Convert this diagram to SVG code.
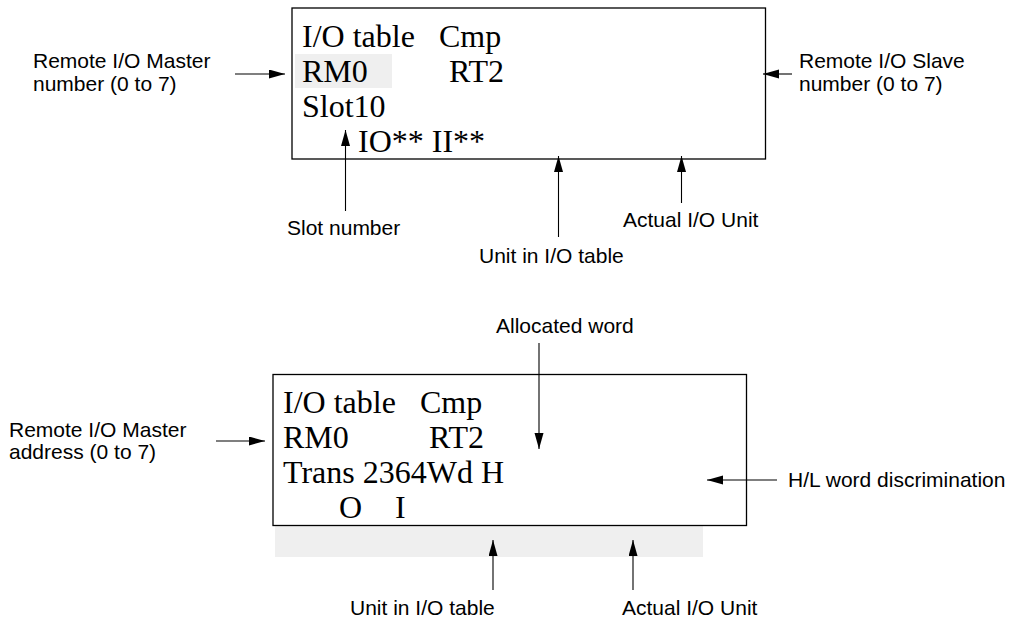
<svg xmlns="http://www.w3.org/2000/svg" width="1011" height="620" viewBox="0 0 1011 620">
<defs>
<style>
.lbl{font-family:"Liberation Sans",Arial,sans-serif;font-size:21px;fill:#000}
.lcd{font-family:"Liberation Serif","Times New Roman",serif;font-size:32px;fill:#000}
.box{fill:none;stroke:#000;stroke-width:1.3}
.hl{fill:#efefef;stroke:none}
.ar{stroke:#000;stroke-width:1.1;fill:none;marker-end:url(#ah)}
</style>
<marker id="ah" markerUnits="userSpaceOnUse" markerWidth="17" markerHeight="10" refX="16" refY="4.5" orient="auto">
<path d="M0,0 L16,4.5 L0,9 z" fill="#000"/>
</marker>
</defs>
<rect width="1011" height="620" fill="#fff"/>

<g id="display1">
<rect class="hl" x="295" y="54" width="97" height="34"/>
<rect class="box" x="292" y="8" width="473.5" height="151"/>
<text class="lcd" x="302" y="47">I/O table</text>
<text class="lcd" x="439" y="47">Cmp</text>
<text class="lcd" x="302" y="82">RM0</text>
<text class="lcd" x="449" y="82">RT2</text>
<text class="lcd" x="302" y="117">Slot10</text>
<text class="lcd" x="358" y="152">IO** II**</text>
</g>

<g id="display2">
<rect class="hl" x="275" y="526" width="428" height="31"/>
<rect class="box" x="273" y="374.5" width="473.5" height="151"/>
<text class="lcd" x="283" y="413">I/O table</text>
<text class="lcd" x="420" y="413">Cmp</text>
<text class="lcd" x="283" y="448">RM0</text>
<text class="lcd" x="429" y="448">RT2</text>
<text class="lcd" x="283" y="483">Trans 2364Wd H</text>
<text class="lcd" x="339" y="518">O</text>
<text class="lcd" x="395" y="518">I</text>
</g>

<g id="labels1">
<text class="lbl" x="33" y="68">Remote I/O Master</text>
<text class="lbl" x="33" y="91">number (0 to 7)</text>
<text class="lbl" x="799" y="68">Remote I/O Slave</text>
<text class="lbl" x="799" y="91">number (0 to 7)</text>
<text class="lbl" x="287" y="235">Slot number</text>
<text class="lbl" x="623" y="227">Actual I/O Unit</text>
<text class="lbl" x="479" y="263">Unit in I/O table</text>
</g>

<g id="labels2">
<text class="lbl" x="496" y="333">Allocated word</text>
<text class="lbl" x="9" y="437">Remote I/O Master</text>
<text class="lbl" x="9" y="459">address (0 to 7)</text>
<text class="lbl" x="788" y="487">H/L word discrimination</text>
<text class="lbl" x="350" y="615">Unit in I/O table</text>
<text class="lbl" x="622" y="615">Actual I/O Unit</text>
</g>

<g id="connectors">
<line class="ar" x1="235" y1="74" x2="285" y2="74"/>
<line class="ar" x1="792" y1="74" x2="763" y2="74"/>
<line class="ar" x1="345.5" y1="211" x2="345.5" y2="130"/>
<line class="ar" x1="558.5" y1="237" x2="558.5" y2="156"/>
<line class="ar" x1="681.5" y1="203" x2="681.5" y2="156"/>
<line class="ar" x1="216" y1="441" x2="265" y2="441"/>
<line class="ar" x1="539" y1="343" x2="539" y2="449"/>
<line class="ar" x1="777" y1="480" x2="707" y2="480"/>
<line class="ar" x1="493" y1="590" x2="493" y2="540"/>
<line class="ar" x1="633" y1="590" x2="633" y2="540"/>
</g>
</svg>
